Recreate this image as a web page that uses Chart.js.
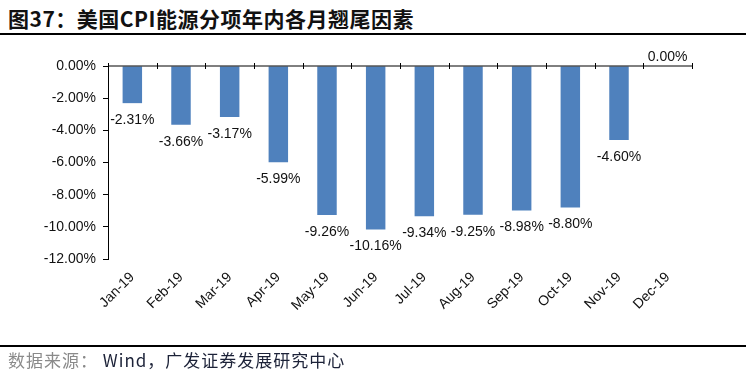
<!DOCTYPE html>
<html>
<head>
<meta charset="utf-8">
<script src="https://cdn.jsdelivr.net/npm/chart.js@4"></script>
<style>
  html, body { margin: 0; padding: 0; background: #fff; }
  #wrap { position: relative; width: 746px; height: 378px; overflow: hidden; }
  #title {
    position: absolute; left: 8px; top: 3px;
    font-family: "Noto Sans CJK SC", sans-serif; font-weight: bold; font-size: 21px;
    color: #111; white-space: nowrap; letter-spacing: 0.5px;
  }
  .rule { position: absolute; left: 0; width: 746px; height: 1.5px; background: #000; }
  #source {
    position: absolute; left: 8px; top: 347px;
    font-family: "Noto Sans CJK SC", sans-serif; font-size: 17px;
    color: #1c2238; white-space: nowrap; letter-spacing: 1px;
  }
  #source .lbl { color: #8a8a8a; }
  canvas { position: absolute; left: 0; top: 0; }
</style>
</head>
<body>
<div id="wrap">
  <div id="title">图37：美国CPI能源分项年内各月翘尾因素</div>
  <div class="rule" style="top:33px"></div>
  <canvas id="cpiChart" width="746" height="378"></canvas>
  <div class="rule" style="top:345px"></div>
  <div id="source"><span class="lbl">数据来源：</span> Wind，广发证券发展研究中心</div>
</div>
<script>
// 数据
const months = ['Jan-19', 'Feb-19', 'Mar-19', 'Apr-19', 'May-19', 'Jun-19',
                'Jul-19', 'Aug-19', 'Sep-19', 'Oct-19', 'Nov-19', 'Dec-19'];
const carryover = [-2.31, -3.66, -3.17, -5.99, -9.26, -10.16,
                   -9.34, -9.25, -8.98, -8.80, -4.60, 0.00];
const yTicks = [0, -2, -4, -6, -8, -10, -12];

const FONT = '"Liberation Sans", Arial, sans-serif';

// 数据标签：负值放在柱底下方，0 放在上方
const barLabels = {
  id: 'barLabels',
  afterDatasetsDraw(chart) {
    const { ctx } = chart;
    const meta = chart.getDatasetMeta(0);
    ctx.save();
    ctx.font = '14px ' + FONT;
    ctx.fillStyle = '#111';
    ctx.textAlign = 'center';
    meta.data.forEach((bar, i) => {
      const v = carryover[i];
      const txt = v.toFixed(2) + '%';
      if (v < 0) {
        ctx.textBaseline = 'top';
        ctx.fillText(txt, bar.x, bar.y + 10);
      } else {
        ctx.textBaseline = 'bottom';
        ctx.fillText(txt, bar.x, bar.y - 2);
      }
    });
    ctx.restore();
  }
};

// 零轴上的类别刻度线
const zeroAxis = {
  id: 'zeroAxis',
  afterDatasetsDraw(chart) {
    const { ctx, chartArea } = chart;
    const x = chart.scales.x, y = chart.scales.y;
    const y0 = y.getPixelForValue(0);
    ctx.save();
    ctx.strokeStyle = '#000';
    ctx.lineWidth = 1;
    ctx.beginPath();
    ctx.moveTo(chartArea.left, y0);
    ctx.lineTo(chartArea.right, y0);
    for (let i = 0; i <= months.length; i++) {
      const px = Math.round(x.getPixelForValue(i - 0.5)) + 0.5;
      ctx.moveTo(px, y0 - 3);
      ctx.lineTo(px, y0 + 3);
    }
    ctx.stroke();
    ctx.restore();
  }
};

new Chart(document.getElementById('cpiChart'), {
  type: 'bar',
  data: {
    labels: months,
    datasets: [{
      data: carryover,
      backgroundColor: '#4f81bd',
      borderWidth: 0,
      categoryPercentage: 1,
      barPercentage: 0.4
    }]
  },
  options: {
    responsive: false,
    animation: false,
    layout: { padding: { left: 0, right: 54, top: 66, bottom: 0 } },
    plugins: { legend: { display: false }, tooltip: { enabled: false } },
    scales: {
      x: {
        grid: { display: false },
        border: { display: false },
        ticks: {
          color: '#111', font: { family: FONT, size: 14 },
          maxRotation: 45, minRotation: 45, padding: 2
        },
        afterFit: s => { s.height = 378 - 259; }
      },
      y: {
        min: -12, max: 0,
        afterBuildTicks: s => { s.ticks = yTicks.map(v => ({ value: v })); },
        grid: { color: 'rgba(0,0,0,0)', tickColor: '#000', tickLength: 5, drawOnChartArea: false },
        border: { display: true, color: '#000', width: 1 },
        ticks: {
          color: '#111', font: { family: FONT, size: 14 }, padding: 7,
          callback: v => v.toFixed(2) + '%'
        },
        afterFit: s => { s.width = 108; }
      }
    }
  },
  plugins: [barLabels, zeroAxis]
});
</script>
</body>
</html>
